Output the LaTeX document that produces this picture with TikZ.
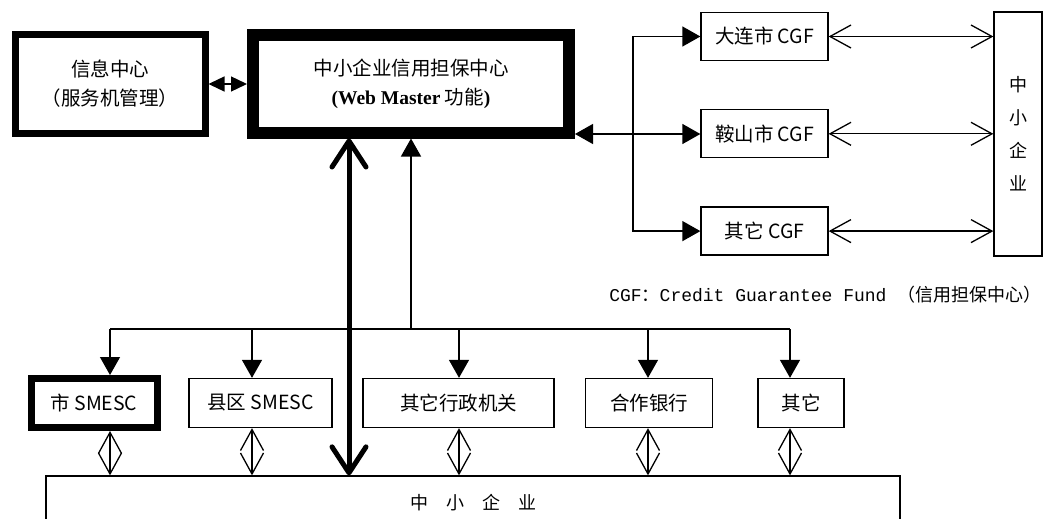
\documentclass[tikz,border=0pt]{standalone}
\usepackage{fontspec}
\newfontfamily\cjk{Noto Sans CJK SC}
\newfontfamily\mono{Liberation Mono}
\newfontfamily\wm{Liberation Serif}
\usetikzlibrary{positioning,arrows.meta}

\begin{document}
\begin{tikzpicture}[
  x=1pt, y=-1pt,
  line width=1.3pt,
  font=\cjk\fontsize{19.5}{29}\selectfont,
  box/.style={draw, line width=1.3pt, minimum height=48pt, inner sep=0pt, align=center},
  thickbox/.style={box, line width=7pt},
  masterbox/.style={box, line width=12pt},
  tri/.tip={Triangle[length=18pt,width=20pt]},
  smalltri/.tip={Triangle[length=16pt,width=15pt]},
  barb/.tip={Straight Barb[length=21pt,width=23pt]},
  bigbarb/.tip={Straight Barb[length=26pt,width=34pt,round]}
]
\useasboundingbox (0,0) rectangle (1047,519);

% top row
\node[thickbox, minimum width=190pt, minimum height=98pt] (info) at (110,84) {信息中心\\（服务机管理）};
\node[masterbox, minimum width=316pt, minimum height=97pt] (master) at (411,84)
  {中小企业信用担保中心\\{\wm\bfseries (Web Master}\ 功能{\wm\bfseries )}};

% CGF column
\node[box, minimum width=127pt] (cgfA) at (764.5,36.5) {大连市 CGF};
\node[box, minimum width=127pt, below=48pt of cgfA] (cgfB) {鞍山市 CGF};
\node[box, minimum width=127pt, below=48pt of cgfB] (cgfC) {其它 CGF};
\node[box, minimum width=48pt, minimum height=244pt, font=\cjk\fontsize{18}{33}\selectfont] (sme) at (1018,134) {中\\小\\企\\业};

\node[anchor=east, inner sep=0pt, font=\cjk\fontsize{18}{22}\selectfont] (note) at (1042,295)
  {{\mono CGF}：{\mono Credit Guarantee Fund }（信用担保中心）};

% bottom row
\node[thickbox, minimum width=126pt, minimum height=49pt] (smA) at (94,403) {市 SMESC};
\node[box, minimum width=143pt, minimum height=49pt] (smB) at (260.5,403) {县区 SMESC};
\node[box, minimum width=191pt, minimum height=49pt] (smC) at (458.5,403) {其它行政机关};
\node[box, minimum width=127pt, minimum height=49pt] (smD) at (649,403) {合作银行};
\node[box, minimum width=86pt, minimum height=49pt] (smE) at (801,403) {其它};
\node[box, minimum width=854pt, minimum height=54pt, font=\cjk\fontsize{18}{22}\selectfont] (ent) at (473,503) {中　小　企　业};

% connectors
\draw[smalltri-smalltri] (info.east) -- (master.west |- info.east);

\coordinate (split) at (633,134);
\draw[-tri] (split) -- (master.east |- split);
\draw[-tri] (split) |- (cgfA.west);
\draw[-tri] (split) -- (cgfB.west |- split);
\draw[-tri] (split) |- (cgfC.west);
\foreach \c in {cgfA,cgfB,cgfC}
  \draw[barb-barb] (\c.east) -- (\c.east -| sme.west);

\coordinate (busL) at (110,329);
\coordinate (busR) at (790,329);
\draw (busL) -- (busR);
\foreach \b/\x in {smA/110,smB/252,smC/459,smD/648,smE/790} {
  \coordinate (t\b) at (\x,329);
  \draw[-tri] (t\b) -- (\b.north -| t\b);
  \draw[barb-barb] (\b.south -| t\b) -- (ent.north -| t\b);
}

\coordinate (up) at (411,329);
\draw[-tri] (up) -- (master.south -| up);

\coordinate (axis) at (349,329);
\draw[line width=5pt, bigbarb-bigbarb] (master.south -| axis) -- (ent.north -| axis);

\end{tikzpicture}
\end{document}
